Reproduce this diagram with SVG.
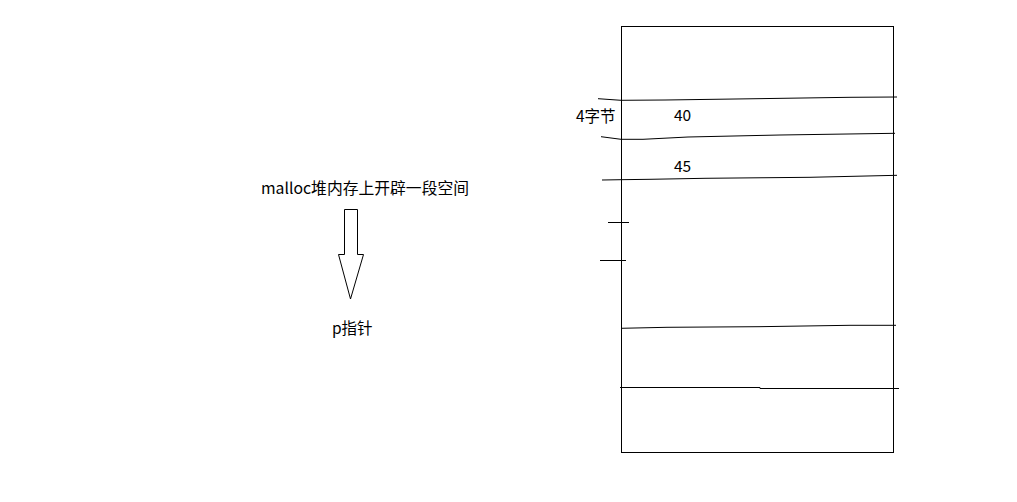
<svg xmlns="http://www.w3.org/2000/svg" width="1017" height="502" viewBox="0 0 1017 502">
<style>
.ln{fill:none;stroke:#000;stroke-width:1}
.t{font-family:"Noto Sans CJK SC","Noto Sans",sans-serif;font-size:15.5px;fill:#000}
</style>
<rect width="1017" height="502" fill="#fff"/>
<g id="label-malloc"><text class="t" x="261" y="194" textLength="208" lengthAdjust="spacingAndGlyphs">malloc堆内存上开辟一段空间</text></g>
<g id="arrow"><path class="ln" d="M344.5,209.5 H357.5 V254.5 H363.5 L350.5,299 L338.5,254.5 H344.5 Z"/></g>
<g id="label-p"><text class="t" x="332" y="334">p指针</text></g>
<g id="memory">
<rect class="ln" x="621.5" y="26.5" width="272" height="426"/>
</g>
<g id="connectors">
<polyline class="ln" points="598,98.7 621,100.3 665,100 757,98.7 850,97.3 897,97"/>
<polyline class="ln" points="601,136.7 621,139.3 643,139.3 688,137 780,135 895,133.3"/>
<polyline class="ln" points="602,180 621,179.7 650,179.3 705,178.3 810,177.3 897,175.3"/>
<line class="ln" x1="608" y1="222.5" x2="629" y2="222.5"/>
<line class="ln" x1="600" y1="260.5" x2="626" y2="260.5"/>
<polyline class="ln" points="621,328.3 667,327.3 759,326.7 850,325.3 896,325.3"/>
<polyline class="ln" points="620,387.5 760,387.5 760,388.5 899,388.5"/>
</g>
<g id="label-4b"><text class="t" x="576" y="122">4字节</text></g>
<g id="label-40"><text class="t" x="674" y="121">40</text></g>
<g id="label-45"><text class="t" x="674" y="172">45</text></g>
</svg>
